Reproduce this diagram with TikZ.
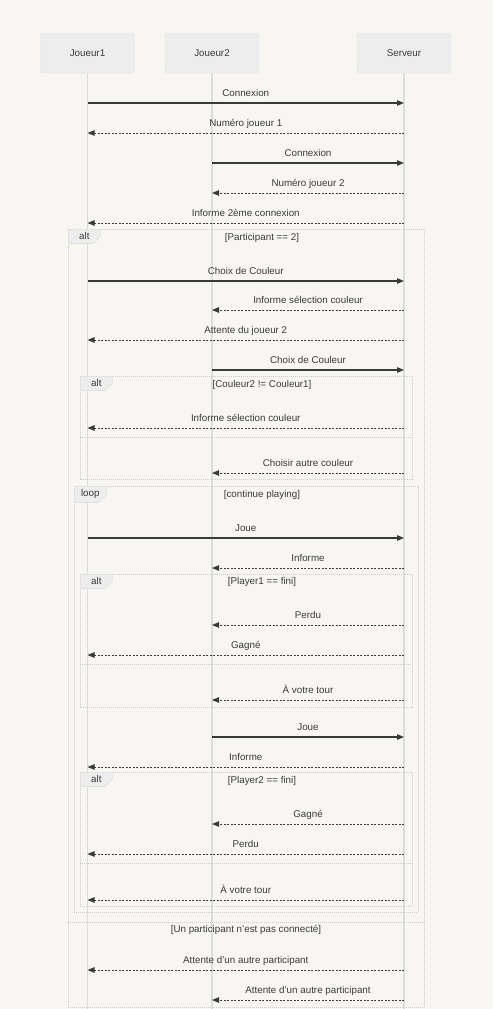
\documentclass[tikz,border=0pt]{standalone}
\usepackage{fontspec}
\setmainfont{Liberation Sans}
\usetikzlibrary{arrows.meta,shapes.misc}
\definecolor{bg}{HTML}{F7F6F3}
\definecolor{ink}{HTML}{3A3A3A}
\definecolor{boxfill}{HTML}{EDEDED}
\definecolor{boxline}{HTML}{E0E0E0}
\definecolor{lifecol}{HTML}{DCDCDC}
\definecolor{framecol}{HTML}{CCCCCC}
\tikzset{
  txt/.style={text=ink, font=\fontsize{9.8}{12}\selectfont},
  actor/.style={txt, draw=boxline, fill=boxfill, rounded corners=3pt,
    minimum width=94pt, minimum height=40pt},
  life/.style={draw=lifecol, line width=1.4pt},
  call/.style={draw=ink, line width=1.1pt, -{Triangle[length=7pt,width=5.5pt]}},
  reply/.style={draw=ink, line width=0.9pt, dash pattern=on 2pt off 1.5pt,
    -{Triangle[length=7pt,width=5.5pt]}},
  lbl/.style={txt, anchor=base, yshift=7pt, inner sep=0pt},
  frame/.style={draw=framecol, line width=0.7pt, dash pattern=on 1pt off 1pt},
  tab/.style={txt, fill=boxfill, draw=boxline, line width=0.6pt, anchor=north west,
    chamfered rectangle, chamfered rectangle corners=south east,
    chamfered rectangle xsep=4pt, inner sep=0pt,
    minimum width=32pt, minimum height=12pt},
  cond/.style={txt, inner sep=0pt},
}
\begin{document}
\begin{tikzpicture}[x=1pt, y=-1pt]
  \fill[bg] (0,0) rectangle (493,1009);
  \useasboundingbox (0,0) rectangle (493,1009);

  % participants
  \node[actor] (j1)  at (87.5,53) {Joueur1};
  \node[actor] (j2)  at (212,53)  {Joueur2};
  \node[actor] (srv) at (404,53)  {Serveur};

  \draw[life] (j1.south)  -- (j1.south |- 0,1009);
  \draw[life] (j2.south)  -- (j2.south |- 0,1009);
  \draw[life] (srv.south) -- (srv.south |- 0,1009);

  % frames
  \draw[frame] (68,229) rectangle (424,1007);
  \draw[frame] (68,922) -- (424,922);
  \draw[frame] (80,376) rectangle (412,479);
  \draw[frame] (80,437) -- (412,437);
  \draw[frame] (74,486) rectangle (418,912);
  \draw[frame] (80,574) rectangle (412,707);
  \draw[frame] (80,664) -- (412,664);
  \draw[frame] (80,772) rectangle (412,906);
  \draw[frame] (80,863) -- (412,863);

  \node[tab] (alt1)  at (68,229) {alt};
  \node[tab] (alt2)  at (80,376) {alt};
  \node[tab] (loop1) at (74,486) {loop};
  \node[tab] (alt3)  at (80,574) {alt};
  \node[tab] (alt4)  at (80,772) {alt};

  \node[cond] (c1) at (262,237.5) {[Participant == 2]};
  \node[cond] (c2) at (262,384.5) {[Couleur2 != Couleur1]};
  \node[cond] (c3) at (262,494.5) {[continue playing]};
  \node[cond] (c4) at (262,581.5) {[Player1 == fini]};
  \node[cond] (c5) at (262,780.5) {[Player2 == fini]};
  \node[cond] (c6) at (246,929.5) {[Un participant n'est pas connecté]};

  % messages
  \draw[call]  (j1 |- 0,103)  -- node[lbl] {Connexion} (srv |- 0,103);
  \draw[reply] (srv |- 0,133) -- node[lbl] {Numéro joueur 1} (j1 |- 0,133);
  \draw[call]  (j2 |- 0,163)  -- node[lbl] {Connexion} (srv |- 0,163);
  \draw[reply] (srv |- 0,193) -- node[lbl] {Numéro joueur 2} (j2 |- 0,193);
  \draw[reply] (srv |- 0,223) -- node[lbl] {Informe 2ème connexion} (j1 |- 0,223);

  \draw[call]  (j1 |- 0,281)  -- node[lbl] {Choix de Couleur} (srv |- 0,281);
  \draw[reply] (srv |- 0,310) -- node[lbl] {Informe sélection couleur} (j2 |- 0,310);
  \draw[reply] (srv |- 0,340) -- node[lbl] {Attente du joueur 2} (j1 |- 0,340);
  \draw[call]  (j2 |- 0,370)  -- node[lbl] {Choix de Couleur} (srv |- 0,370);
  \draw[reply] (srv |- 0,428) -- node[lbl] {Informe sélection couleur} (j1 |- 0,428);
  \draw[reply] (srv |- 0,473) -- node[lbl] {Choisir autre couleur} (j2 |- 0,473);

  \draw[call]  (j1 |- 0,538)  -- node[lbl] {Joue} (srv |- 0,538);
  \draw[reply] (srv |- 0,568) -- node[lbl] {Informe} (j2 |- 0,568);
  \draw[reply] (srv |- 0,625) -- node[lbl] {Perdu} (j2 |- 0,625);
  \draw[reply] (srv |- 0,655) -- node[lbl] {Gagné} (j1 |- 0,655);
  \draw[reply] (srv |- 0,700) -- node[lbl] {À votre tour} (j2 |- 0,700);
  \draw[call]  (j2 |- 0,737)  -- node[lbl] {Joue} (srv |- 0,737);
  \draw[reply] (srv |- 0,767) -- node[lbl] {Informe} (j1 |- 0,767);
  \draw[reply] (srv |- 0,824) -- node[lbl] {Gagné} (j2 |- 0,824);
  \draw[reply] (srv |- 0,854) -- node[lbl] {Perdu} (j1 |- 0,854);
  \draw[reply] (srv |- 0,900) -- node[lbl] {À votre tour} (j1 |- 0,900);

  \draw[reply] (srv |- 0,970)  -- node[lbl] {Attente d'un autre participant} (j1 |- 0,970);
  \draw[reply] (srv |- 0,1000) -- node[lbl] {Attente d'un autre participant} (j2 |- 0,1000);
\end{tikzpicture}
\end{document}
